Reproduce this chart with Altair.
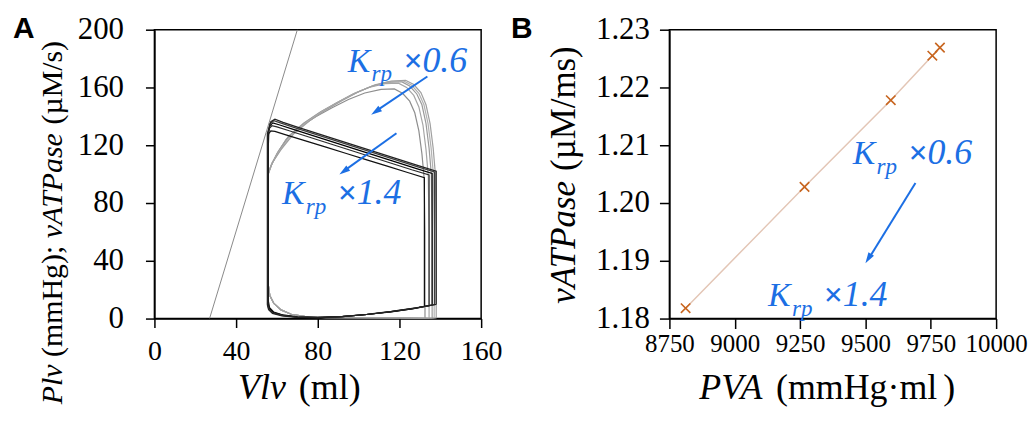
import altair as alt
import pandas as pd

# ---------------- Panel A data : loops (Vlv ml, Plv mmHg / vATPase uM/s) ----------------
pv_names = ["pv1", "pv2", "pv3", "pv4", "pv5"]
pv_colors = ["#111111", "#2b2b2b", "#000000", "#3c3c3c", "#222222"]
pv_V = [
    [132.2, 132.2, 132.2, 124, 114, 104, 94, 84, 74, 64, 59, 57, 56, 55.8, 55.8, 56.4, 58.5, 63, 70, 80, 92, 104, 116, 126, 132.2],
    [134.5, 134.5, 134.5, 126, 116, 106, 96, 86, 76, 66, 60, 57.5, 56.2, 55.6, 55.6, 56.2, 58.3, 63, 70, 80, 92, 104, 116, 127, 134.5],
    [136, 136, 136, 128, 118, 108, 98, 88, 78, 68, 61, 58, 56.5, 55.5, 55.5, 56.1, 58.2, 63, 70, 80, 92, 104, 116, 128, 136],
    [137.2, 137.2, 137.2, 129, 119, 109, 99, 89, 79, 69, 62, 58.5, 56.6, 55.4, 55.4, 56, 58, 63, 70, 80, 92, 104, 116, 128, 137.2],
    [138, 138, 138, 130, 120, 110, 100, 90, 80, 70, 63, 59, 57, 55.3, 55.3, 55.9, 57.8, 62.5, 70, 80, 92, 104, 116, 128, 138],
]
pv_P = [
    [8.5, 50, 97.5, 101.1, 105.5, 109.9, 114.3, 118.7, 123, 127.4, 129.6, 130, 128, 120, 12, 7.5, 4.5, 2.5, 1.2, 0.8, 1.5, 2.8, 4.6, 6.6, 8.5],
    [9, 50, 99.5, 103, 107.5, 112, 116.5, 121, 125.5, 130, 132.7, 133.5, 131.5, 124, 11, 7, 4.2, 2.3, 1.1, 0.7, 1.4, 2.8, 4.7, 6.9, 9],
    [9.3, 50, 100.5, 104, 108.5, 113, 117.5, 122, 126.5, 131, 134.2, 135.5, 133.5, 126, 10.5, 6.8, 4, 2.2, 1, 0.6, 1.4, 2.8, 4.8, 7.2, 9.3],
    [9.6, 50, 101.5, 105, 109.5, 114, 118.5, 123, 127.5, 132, 135.3, 137, 135, 127, 10, 6.5, 3.8, 2, 0.9, 0.5, 1.3, 2.8, 4.9, 7.3, 9.6],
    [9.8, 50, 102, 105.5, 110, 114.5, 119, 123.5, 128, 132.5, 135.8, 138, 136.3, 128, 9.5, 6.2, 3.6, 1.9, 0.8, 0.5, 1.3, 2.9, 5, 7.5, 9.8],
]

atp_names = ["at1", "at2", "at3", "at4", "at5"]
atp_colors = ["#8e8e8e", "#a6a6a6", "#9a9a9a", "#b2b2b2", "#a0a0a0"]
atp_V = [
    [132.5, 132.5, 132.1, 131, 129.5, 127.5, 125, 121.5, 117.5, 111, 103, 95, 87, 79, 71, 64.5, 60, 57.2, 55.8, 55.5, 55.5, 56.5, 58.5, 62, 67, 74, 84, 100, 120, 132.5],
    [134.5, 134.5, 134.1, 133, 131.5, 129.5, 127, 123.5, 119.5, 113, 105, 97, 89, 81, 73, 65.5, 60.5, 57.4, 55.8, 55.5, 55.5, 56.5, 58.5, 62, 67, 74, 84, 100, 120, 134.5],
    [136, 136, 135.6, 134.5, 133, 131, 128.5, 125, 121, 114, 106, 98, 90, 82, 74, 66, 61, 57.6, 55.8, 55.5, 55.5, 56.5, 58.5, 62, 67, 74, 84, 100, 120, 136],
    [137, 137, 136.6, 135.5, 134, 132, 129.5, 126, 122, 115, 107, 99, 91, 83, 75, 67, 61.5, 57.8, 55.8, 55.5, 55.5, 56.5, 58.5, 62, 67, 74, 84, 100, 120, 137],
    [138, 138, 137.6, 136.5, 135, 133, 130.5, 127, 123, 116, 108, 100, 92, 84, 76, 68, 62, 58, 55.8, 55.5, 55.5, 56.5, 58.5, 62, 67, 74, 84, 100, 120, 138],
]
atp_P = [
    [0, 60, 97, 114, 130, 142.5, 150.5, 156, 159, 158.7, 156.2, 151.7, 146, 139.8, 132.5, 124, 114, 106, 100, 95, 26, 16, 10.5, 6, 3, 1.3, 0.6, 0.4, 0.3, 0],
    [0, 60, 99, 117, 134, 146.5, 154.5, 160, 163, 162.7, 160, 155.2, 149.3, 142.8, 135.2, 126, 115.5, 107, 100.5, 95, 26, 16, 10.5, 6, 3, 1.3, 0.6, 0.4, 0.3, 0],
    [0, 60, 100, 118, 135, 148, 155.5, 161, 164, 163.5, 160.7, 156, 150, 143.5, 136, 126.5, 116, 107.5, 101, 95, 26, 16, 10.5, 6, 3, 1.3, 0.6, 0.4, 0.3, 0],
    [0, 60, 100, 118, 135, 148, 156, 161.5, 164.5, 164, 161.2, 156.5, 150.5, 144, 136.5, 127, 116.5, 108, 101, 95, 26, 16, 10.5, 6, 3, 1.3, 0.6, 0.4, 0.3, 0],
    [0, 60, 100, 118, 135, 148, 156.5, 162, 165, 164.5, 161.8, 157, 151, 144.5, 137, 127.5, 117, 108.5, 101, 95, 26, 16, 10.5, 6, 3, 1.3, 0.6, 0.4, 0.3, 0],
]

espvr_V = [27, 70]
espvr_P = [0, 200]

xA_ticks = [0, 40, 80, 120, 160]
yA_ticks = [0, 40, 80, 120, 160, 200]

# ---------------- Panel B data ----------------
pva = [8812, 9267, 9597, 9756, 9785]
vatpase = [1.1818, 1.2028, 1.2178, 1.2255, 1.2269]
xB_ticks = [8750, 9000, 9250, 9500, 9750, 10000]
yB_ticks = [1.18, 1.19, 1.20, 1.21, 1.22, 1.23]

# ---------------- build tables ----------------
rows = []
for names, Vs, Ps in ((atp_names, atp_V, atp_P), (pv_names, pv_V, pv_P)):
    for n, vs, ps in zip(names, Vs, Ps):
        for i, (v, p) in enumerate(zip(vs, ps)):
            rows.append({"loop": n, "i": i, "V": v, "P": p})
loops_df = pd.DataFrame(rows)
espvr_df = pd.DataFrame({"V": espvr_V, "P": espvr_P})
b_df = pd.DataFrame({"PVA": pva, "vATPase": vatpase})

W, H = 328, 290
BLUE = "#1c6fe4"
SERIF = "Liberation Serif"
SANS = "Liberation Sans"
ONE = pd.DataFrame({"a": [0]})


def txt(x, y, s, size, style="normal", weight="normal", color="black",
        angle=0, font=SERIF):
    return alt.Chart(ONE).mark_text(
        align="left", baseline="alphabetic", font=font, fontSize=size,
        fontStyle=style, fontWeight=weight, color=color, angle=angle
    ).encode(x=alt.value(x), y=alt.value(y), text=alt.value(s))


def arrow(x1, y1, x2, y2, hx, hy, ang):
    line = alt.Chart(ONE).mark_rule(color=BLUE, strokeWidth=2).encode(
        x=alt.value(x1), y=alt.value(y1), x2=alt.value(x2), y2=alt.value(y2))
    head = alt.Chart(ONE).mark_point(
        shape="M0,-1L0.6,1L-0.6,1Z", filled=True, size=120, angle=ang,
        color=BLUE, opacity=1).encode(x=alt.value(hx), y=alt.value(hy))
    return [line, head]


def krp(x, y, mult, size=34):
    return [
        txt(x, y, "K", size, style="italic", color=BLUE),
        txt(x + 24, y + 10, "rp", size * 0.68, style="italic", color=BLUE),
        txt(x + 56, y, "\u00d7", size, weight="bold", color=BLUE),
        txt(x + 75, y, mult, size + 2, style="italic", color=BLUE),
    ]


# ---------------- Panel A ----------------
xA = alt.X("V:Q", scale=alt.Scale(domain=[0, 160], nice=False),
           axis=alt.Axis(values=xA_ticks, title=None, labelFontSize=28,
                         labelPadding=10, tickSize=9, labelFlush=False,
                         labelOverlap=False, labelFont=SERIF))
yA = alt.Y("P:Q", scale=alt.Scale(domain=[0, 200], nice=False),
           axis=alt.Axis(values=yA_ticks, title=None, labelFontSize=31,
                         labelPadding=22, tickSize=9, labelOverlap=False,
                         labelFont=SERIF))

espvr = alt.Chart(espvr_df).mark_line(color="#8a8a8a", strokeWidth=1, clip=True).encode(x=xA, y=yA)
loops = alt.Chart(loops_df).mark_line(strokeWidth=1.2, clip=True).encode(
    x=xA, y=yA, detail="loop:N", order="i:Q",
    color=alt.Color("loop:N", legend=None,
                    scale=alt.Scale(domain=atp_names + pv_names,
                                    range=atp_colors + pv_colors)))

fsA = 30
ytA_base = 376
fsX = 36
a_layers = [espvr, loops]
a_layers += krp(194, 42, "0.6")
a_layers += krp(128, 175, "1.4")
a_layers += arrow(274, 47, 222, 82, 222.1, 82.2, 235.8)
a_layers += arrow(243, 104, 190, 142, 190.1, 142.1, 234.3)
a_layers += [
    txt(-142, 8, "A", 30, weight="bold", font=SANS),
    txt(-93, ytA_base, "Plv", fsA, style="italic", angle=270),
    txt(-93, ytA_base - 1.583 * fsA, "(mmHg);", fsA, angle=270),
    txt(-93, ytA_base - 5.555 * fsA, "vATPase", fsA, style="italic", angle=270),
    txt(-93, ytA_base - 9.36 * fsA, "(\u00b5M/s)", fsA, angle=270),
    txt(84, 371, "Vlv", fsX, style="italic"),
    txt(84 + 61, 371, "(ml)", fsX),
]
chartA = alt.layer(*a_layers).properties(width=W, height=H)

# ---------------- Panel B ----------------
xB = alt.X("PVA:Q", scale=alt.Scale(domain=[8750, 10000], nice=False),
           axis=alt.Axis(values=xB_ticks, format="d", title=None, labelFontSize=25,
                         labelPadding=3, tickSize=10, labelFlush=False,
                         labelOverlap=False, labelFont=SERIF))
yB = alt.Y("vATPase:Q", scale=alt.Scale(domain=[1.18, 1.23], nice=False, zero=False),
           axis=alt.Axis(values=yB_ticks, format=".2f", title=None, labelFontSize=31,
                         labelPadding=10, tickSize=10, labelOverlap=False,
                         labelFont=SERIF))

b_line = alt.Chart(b_df).mark_line(color="#e3c6b6", strokeWidth=1.5).encode(x=xB, y=yB, order="PVA:Q")
b_pts = alt.Chart(b_df).mark_point(shape="M-1,-1L1,1M-1,1L1,-1", filled=False, size=90,
                                   strokeWidth=1.6, color="#c8651f", opacity=1).encode(x=xB, y=yB)

fsB = 35
ytB_base = 275
b_layers = [b_line, b_pts]
b_layers += krp(184, 135, "0.6")
b_layers += krp(99, 277, "1.4")
b_layers += arrow(247, 154, 200, 230, 199.7, 229.8, 212)
b_layers += [
    txt(-159, 8, "B", 30, weight="bold", font=SANS),
    txt(-95, ytB_base, "vATPase", fsB, style="italic", angle=270),
    txt(-95, ytB_base - 3.805 * fsB, "(\u00b5M/ms)", fsB, angle=270),
    txt(30, 371, "PVA", fsX, style="italic"),
    txt(30 + 2.083 * fsX + 2, 371, "(mmHg\u00b7ml", fsX),
    txt(30 + 6.75 * fsX + 2, 371, ")", fsX),
]
chartB = alt.layer(*b_layers).properties(width=W, height=H)

chart = alt.hconcat(chartA, chartB, spacing=189, bounds="flush").properties(
    padding={"left": 4, "top": 4, "right": 0, "bottom": 0}
).configure_view(
    stroke="black", strokeWidth=1.5
).configure_axis(
    labelFont=SERIF, labelColor="black", tickColor="black", tickWidth=1.5,
    domainColor="black", domainWidth=1.5, grid=False
)

chart.save("out.html", embed_options={"renderer": "svg", "actions": False})
